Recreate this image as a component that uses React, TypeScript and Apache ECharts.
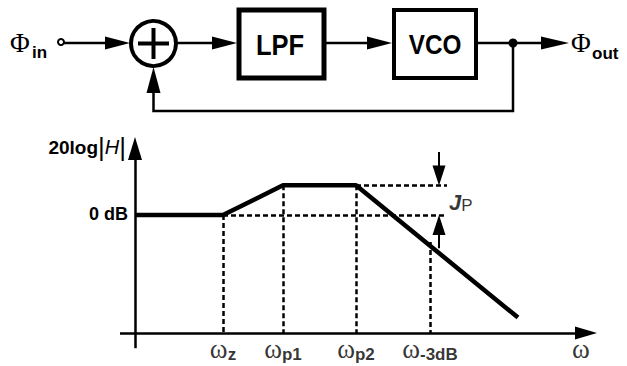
import React, { useEffect, useRef } from 'react';
import * as echarts from 'echarts';

// ---- Data (schematic units: frequency axis units, magnitude in dB) ----
const breakLabels = ['z', 'p1', 'p2', '-3dB'];
const breakFreqs = [8.8, 14.8, 22.1, 29.5]; // ωz, ωp1, ωp2, ω-3dB
const curveFreqs = [0, 8.8, 14.8, 22.1, 38.3];
const curveMagDb = [0, 0, 3.3, 3.3, -11.4];
const peakDb = 3.3;
const minus3Db = -3.0;
const zeroDb = 0;
const axisLevelDb = -13.1; // where the ω axis sits
const guideEndFreq = 31.2; // right end of dashed horizontal guides
const jpFreq = 30.4; // x of the J_P arrows
const omegaAxisLabelFreq = 44.6;

const SANS = '"Liberation Sans", Arial, sans-serif';
const SERIF = '"Liberation Serif", "Times New Roman", serif';

export default function App() {
  const ref = useRef<HTMLDivElement>(null);
  useEffect(() => {
    if (!ref.current) return;
    const chart = echarts.init(ref.current, null, { renderer: 'svg' });

    const dashed = { color: '#000', width: 2.5, type: [5, 3] as any };
    const solidAxis = { color: '#000', width: 2.5, type: 'solid' as any };
    const P = (x: number, y: number, extra: any = {}) => ({ coord: [x, y], symbol: 'none', ...extra });
    const arrowEnd = (x: number, y: number, size: number[]) => ({ coord: [x, y], symbol: 'triangle', symbolSize: size });

    const markData: any[] = [
      // axes
      [P(-1.5, axisLevelDb), { ...arrowEnd(45.1, axisLevelDb, [13, 22]), lineStyle: solidAxis }],
      [P(0, -14.8), { ...arrowEnd(0, 7.4, [14, 23]), lineStyle: solidAxis }],
      // vertical guides
      [P(breakFreqs[0], zeroDb), { ...P(breakFreqs[0], axisLevelDb), lineStyle: dashed }],
      [P(breakFreqs[1], peakDb), { ...P(breakFreqs[1], axisLevelDb), lineStyle: dashed }],
      [P(breakFreqs[2], peakDb), { ...P(breakFreqs[2], axisLevelDb), lineStyle: dashed }],
      [P(breakFreqs[3], minus3Db), { ...P(breakFreqs[3], axisLevelDb), lineStyle: dashed }],
      // horizontal guides
      [P(breakFreqs[0], zeroDb), { ...P(guideEndFreq, zeroDb), lineStyle: dashed }],
      [P(breakFreqs[2], peakDb), { ...P(guideEndFreq, peakDb), lineStyle: dashed }],
      // J_P arrows
      [P(jpFreq, 7.0), { ...arrowEnd(jpFreq, peakDb + 1.1, [13, 20]), lineStyle: { color: '#000', width: 2, type: 'solid' } }],
      [P(jpFreq, -3.7), { ...arrowEnd(jpFreq, zeroDb - 1.1, [13, 20]), lineStyle: { color: '#000', width: 2, type: 'solid' } }],
    ];

    const labelData = [
      ...breakFreqs.map((f, i) => ({ value: [f, axisLevelDb], name: breakLabels[i] })),
      { value: [omegaAxisLabelFreq, axisLevelDb], name: '' },
    ];

    const arrowR = (tipX: number, y: number, len = 25, hw = 6.5) => ({
      type: 'polygon', shape: { points: [[tipX - len, y - hw], [tipX, y], [tipX - len, y + hw]] }, style: { fill: '#000' },
    });

    const cy = 43;
    const graphic: any[] = [
      // input
      { type: 'text', x: 10, y: 43, style: { text: 'Φ', font: `27px ${SERIF}`, fill: '#000', textVerticalAlign: 'middle' } },
      { type: 'text', x: 32, y: 52, style: { text: 'in', font: `bold 17px ${SANS}`, fill: '#000', textVerticalAlign: 'middle' } },
      { type: 'line', shape: { x1: 64, y1: cy, x2: 110, y2: cy }, style: { stroke: '#000', lineWidth: 2.5 } },
      { type: 'circle', shape: { cx: 61, cy: cy - 1, r: 3 }, style: { fill: '#fff', stroke: '#000', lineWidth: 2 } },
      arrowR(130, cy),
      // summing node
      { type: 'circle', shape: { cx: 153.5, cy: 43.5, r: 22.5 }, style: { fill: '#fff', stroke: '#000', lineWidth: 4 } },
      { type: 'line', shape: { x1: 138, y1: 43.5, x2: 169, y2: 43.5 }, style: { stroke: '#000', lineWidth: 4 } },
      { type: 'line', shape: { x1: 153.5, y1: 28, x2: 153.5, y2: 59 }, style: { stroke: '#000', lineWidth: 4 } },
      { type: 'line', shape: { x1: 176, y1: cy, x2: 215, y2: cy }, style: { stroke: '#000', lineWidth: 2.5 } },
      arrowR(237, cy),
      // LPF
      { type: 'rect', shape: { x: 239, y: 10, width: 85, height: 68 }, style: { fill: '#fff', stroke: '#000', lineWidth: 5 } },
      { type: 'text', x: 280, y: 45, scaleX: 0.85, style: { text: 'LPF', font: `bold 30px ${SANS}`, fill: '#000', textAlign: 'center', textVerticalAlign: 'middle' } },
      { type: 'line', shape: { x1: 326, y1: cy, x2: 370, y2: cy }, style: { stroke: '#000', lineWidth: 2.5 } },
      arrowR(392, cy),
      // VCO
      { type: 'rect', shape: { x: 394, y: 10, width: 82, height: 68 }, style: { fill: '#fff', stroke: '#000', lineWidth: 4 } },
      { type: 'text', x: 435, y: 45, scaleX: 0.9, style: { text: 'VCO', font: `bold 27px ${SANS}`, fill: '#000', textAlign: 'center', textVerticalAlign: 'middle' } },
      { type: 'line', shape: { x1: 478, y1: cy, x2: 548, y2: cy }, style: { stroke: '#000', lineWidth: 2.5 } },
      { type: 'circle', shape: { cx: 513, cy: cy, r: 4.5 }, style: { fill: '#000' } },
      arrowR(569, cy, 28),
      { type: 'text', x: 571, y: 43, style: { text: 'Φ', font: `27px ${SERIF}`, fill: '#000', textVerticalAlign: 'middle' } },
      { type: 'text', x: 592, y: 53, style: { text: 'out', font: `bold 17px ${SANS}`, fill: '#000', textVerticalAlign: 'middle' } },
      // feedback
      { type: 'polyline', shape: { points: [[513, cy], [513, 111], [153.5, 111], [153.5, 85]] }, style: { stroke: '#000', lineWidth: 2.5, fill: 'none' } },
      { type: 'polygon', shape: { points: [[146.5, 93], [153.5, 67], [160.5, 93]] }, style: { fill: '#000' } },
      // y-axis labels
      {
        type: 'text', x: 126, y: 147,
        style: {
          text: '{a|20log}{b||}{c|H}{b||}', textAlign: 'right', textVerticalAlign: 'middle',
          rich: {
            a: { font: `bold 19px ${SANS}`, fill: '#000', verticalAlign: 'middle' },
            b: { font: `26px ${SANS}`, fill: '#000', verticalAlign: 'middle' },
            c: { font: `italic 20px ${SANS}`, fill: '#000', verticalAlign: 'middle' },
          },
        },
      },
      { type: 'text', x: 128, y: 214, style: { text: '0 dB', font: `bold 18px ${SANS}`, fill: '#000', textAlign: 'right', textVerticalAlign: 'middle' } },
    ];

    chart.setOption({
      animation: false,
      backgroundColor: '#fff',
      grid: { left: 105, width: 520, top: 125, height: 234 },
      xAxis: { type: 'value', min: -3, max: 49, show: false },
      yAxis: { type: 'value', min: -16, max: 10, show: false },
      graphic,
      series: [
        {
          type: 'line',
          data: curveFreqs.map((f, i) => [f, curveMagDb[i]]),
          showSymbol: false,
          clip: false,
          lineStyle: { color: '#000', width: 4.5 },
          z: 5,
          markLine: { silent: true, symbol: 'none', label: { show: false }, data: markData, z: 3 },
        },
        {
          type: 'scatter',
          symbolSize: 0,
          clip: false,
          data: labelData,
          label: {
            show: true, position: 'bottom', distance: 4, color: '#000',
            formatter: (p: any) => (p.name ? `{w|ω}{s|${p.name}}` : '{w|ω}'),
            rich: {
              w: { fontFamily: SERIF, fontSize: 27, verticalAlign: 'bottom', lineHeight: 26 },
              s: { fontFamily: SANS, fontWeight: 'bold', fontSize: 17, verticalAlign: 'bottom', lineHeight: 18 },
            },
          },
        },
        {
          type: 'scatter',
          symbolSize: 0,
          clip: false,
          data: [[jpFreq + 1.0, (peakDb + zeroDb) / 2 - 0.3]],
          label: {
            show: true, position: 'right', distance: 0, color: '#000',
            formatter: '{j|J}{p|P}',
            rich: {
              j: { fontFamily: SANS, fontStyle: 'italic', fontWeight: 'bold', fontSize: 22, verticalAlign: 'bottom', lineHeight: 22 },
              p: { fontFamily: SANS, fontSize: 17, verticalAlign: 'bottom', lineHeight: 14 },
            },
          },
        },
      ],
    });
    return () => chart.dispose();
  }, []);
  return <div ref={ref} style={{ position: 'fixed', left: 0, top: 0, width: 627, height: 366 }} />;
}
